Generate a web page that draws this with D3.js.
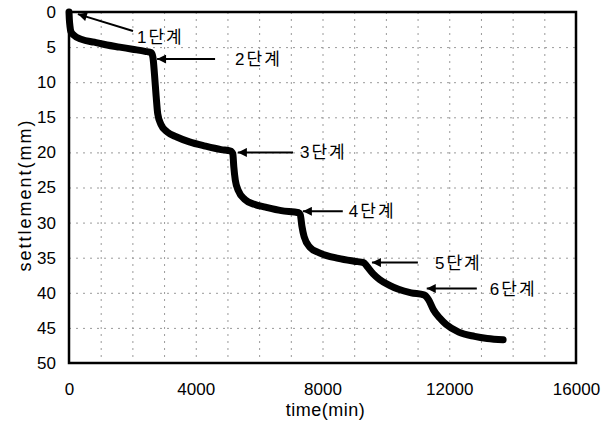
<!DOCTYPE html>
<html>
<head>
<meta charset="utf-8">
<script src="https://cdn.jsdelivr.net/npm/d3@7"></script>
<style>
  body { margin: 0; background: #fff; }
  svg { font-family: "Liberation Sans", Arial, "Noto Sans CJK KR", sans-serif; }
</style>
</head>
<body>
<svg id="chart" width="614" height="428"></svg>
<script>
// settlement curve
let times = [0, 10, 30, 60, 150, 400, 800, 1200, 1600, 2000, 2400, 2600,
	2650, 2700, 2750, 2800, 2900, 3100, 3400, 3800, 4300, 4800, 5100,
	5170, 5200, 5250, 5350, 5550, 5850, 6200, 6700, 7250,
	7300, 7350, 7420, 7600, 7900, 8500, 9000, 9300,
	9400, 9600, 9800, 10100, 10400, 10800, 11200,
	11350, 11500, 11700, 11900, 12300, 12800, 13200, 13700];
let settlements = [0, 1, 2, 2.8, 3.3, 3.9, 4.3, 4.7, 5.0, 5.3, 5.6, 5.8,
	6.5, 9, 12, 14.5, 16, 17.1, 17.8, 18.5, 19.1, 19.6, 19.8,
	20.2, 22, 24, 25.5, 26.7, 27.4, 27.8, 28.3, 28.6,
	28.9, 30.5, 32, 33.5, 34.3, 35.1, 35.5, 35.7,
	36.2, 37.3, 38.1, 38.9, 39.5, 40.0, 40.3,
	41, 42.4, 43.6, 44.5, 45.6, 46.2, 46.5, 46.7];

let xTicks = [0, 4000, 8000, 12000, 16000];
let yTicks = [0, 5, 10, 15, 20, 25, 30, 35, 40, 45, 50];

// stage annotations: label, arrow tip (time, mm), arrow tail, text position
let stageLabels = ["1단계", "2단계", "3단계", "4단계", "5단계", "6단계"];
let tipTime = [280, 2780, 5330, 7380, 9560, 11290];
let tipMm = [0.3, 6.7, 20, 28.4, 35.7, 39.4];
let tailTime = [2020, 4610, 7070, 8640, 11010, 12870];
let tailMm = [2.7, 6.7, 20, 28.4, 35.7, 39.4];
let textTime = [2145, 5240, 7290, 8830, 11550, 13280];
let textMm = [3.5, 6.7, 20, 28.4, 35.7, 39.4];

let svg = d3.select("#chart");
let plotLeft = 69, plotRight = 576, plotTop = 12, plotBottom = 363;

let x = d3.scaleLinear().domain([0, 16000]).range([plotLeft, plotRight]);
let y = d3.scaleLinear().domain([0, 50]).range([plotTop, plotBottom]);

// faint dashed grid
let grid = svg.append("g").attr("stroke", "#9a9a9a").attr("stroke-width", 1)
	.attr("stroke-dasharray", "2,5");
grid.selectAll("line.v")
	.data(d3.range(1000, 16000, 1000))
	.enter().append("line")
	.attr("class", "v")
	.attr("x1", d => x(d) + 0.5).attr("x2", d => x(d) + 0.5)
	.attr("y1", plotTop).attr("y2", plotBottom);
grid.selectAll("line.h")
	.data(yTicks.slice(1, -1))
	.enter().append("line")
	.attr("class", "h")
	.attr("x1", plotLeft).attr("x2", plotRight)
	.attr("y1", d => y(d) + 0.5).attr("y2", d => y(d) + 0.5);

// axes
svg.append("g")
	.attr("transform", "translate(0," + plotBottom + ")")
	.call(d3.axisBottom(x).tickValues(xTicks).tickSize(0).tickPadding(20).tickFormat(d3.format("d")))
	.call(g => g.select(".domain").remove())
	.selectAll("text").style("font-size", "17px").attr("fill", "#000");

svg.append("g")
	.attr("transform", "translate(" + plotLeft + ",0)")
	.call(d3.axisLeft(y).tickValues(yTicks).tickSize(0).tickPadding(13))
	.call(g => g.select(".domain").remove())
	.selectAll("text").style("font-size", "17px").attr("fill", "#000");

// frame
svg.append("rect")
	.attr("x", plotLeft).attr("y", plotTop)
	.attr("width", plotRight - plotLeft).attr("height", plotBottom - plotTop)
	.attr("fill", "none").attr("stroke", "#000").attr("stroke-width", 2.5);

// curve
let pts = times.map((t, i) => [t, settlements[i]]);
svg.append("path")
	.datum(pts)
	.attr("fill", "none")
	.attr("stroke", "#000")
	.attr("stroke-width", 7)
	.attr("stroke-linecap", "round")
	.attr("stroke-linejoin", "round")
	.attr("d", d3.line().x(d => x(d[0])).y(d => y(d[1])).curve(d3.curveMonotoneX));

// arrows
svg.append("defs").append("marker")
	.attr("id", "head")
	.attr("viewBox", "0 0 10 10")
	.attr("refX", 10).attr("refY", 5)
	.attr("markerWidth", 13).attr("markerHeight", 9)
	.attr("markerUnits", "userSpaceOnUse")
	.attr("orient", "auto")
	.append("path").attr("d", "M0,0L10,5L0,10Z").attr("fill", "#000");

svg.selectAll("line.arrow")
	.data(stageLabels)
	.enter().append("line")
	.attr("class", "arrow")
	.attr("x1", (d, i) => x(tailTime[i])).attr("y1", (d, i) => y(tailMm[i]))
	.attr("x2", (d, i) => x(tipTime[i])).attr("y2", (d, i) => y(tipMm[i]))
	.attr("stroke", "#000").attr("stroke-width", 2)
	.attr("marker-end", "url(#head)");

svg.selectAll("text.stage")
	.data(stageLabels)
	.enter().append("text")
	.attr("class", "stage")
	.attr("x", (d, i) => x(textTime[i]))
	.attr("y", (d, i) => y(textMm[i]))
	.attr("dy", "0.35em")
	.style("font-size", "17px")
	.style("letter-spacing", "2px")
	.text(d => d);

// axis titles
svg.append("text")
	.attr("x", (plotLeft + plotRight) / 2 + 3)
	.attr("y", 416)
	.style("text-anchor", "middle")
	.style("font-size", "18px")
	.style("letter-spacing", "0.5px")
	.text("time(min)");

svg.append("text")
	.attr("x", 0 - 195)
	.attr("y", 31)
	.attr("transform", "rotate(-90)")
	.style("text-anchor", "middle")
	.style("font-size", "18px")
	.style("letter-spacing", "2px")
	.text("settlement(mm)");
</script>
</body>
</html>
